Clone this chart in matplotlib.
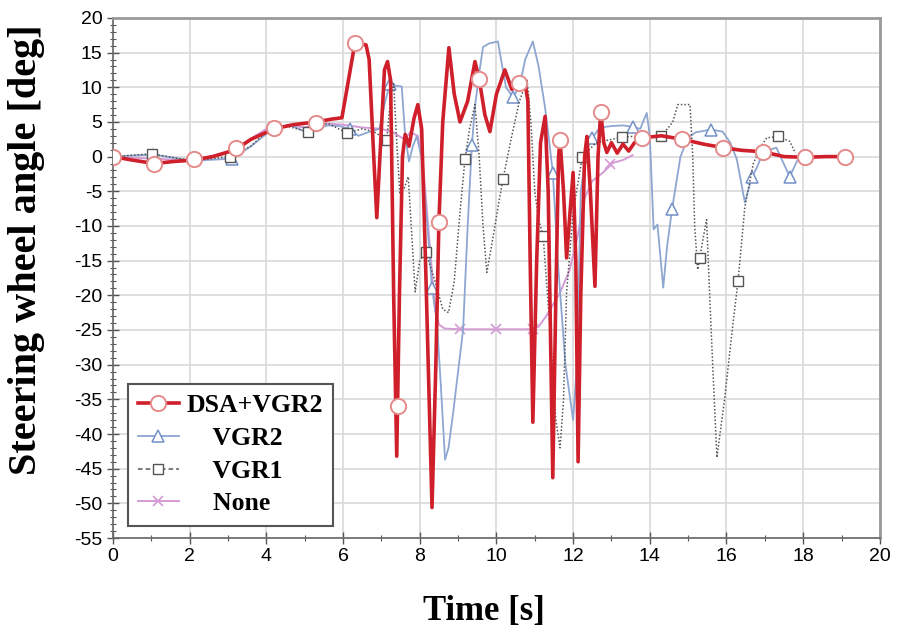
import matplotlib.pyplot as plt
from matplotlib.lines import Line2D
from matplotlib.ticker import MultipleLocator

plt.rcParams['axes.unicode_minus'] = False

# DSA+VGR2 trace (time [s], angle [deg])
dsa_t = [0.0, 0.5, 1.07, 1.6, 2.1, 2.6, 3.2, 3.6, 4.2, 4.7, 5.3, 5.7, 5.97,
         6.31, 6.6, 6.68, 6.8, 6.88, 6.98, 7.08, 7.16, 7.24, 7.32, 7.4, 7.47,
         7.55, 7.62, 7.72, 7.85, 7.95, 8.05, 8.15, 8.32, 8.42, 8.5, 8.6, 8.76,
         8.9, 9.05, 9.25, 9.44, 9.55, 9.7, 9.83, 10.0, 10.22, 10.4, 10.6, 10.75,
         10.82, 10.88, 10.95, 11.05, 11.15, 11.27, 11.35, 11.47, 11.55, 11.62,
         11.66, 11.75, 11.83, 11.92, 12.0, 12.07, 12.13, 12.2, 12.3, 12.36,
         12.45, 12.57, 12.65, 12.72, 12.8, 12.88, 13.0, 13.15, 13.3, 13.45,
         13.6, 13.8, 14.3, 14.85, 15.4, 15.9, 16.4, 16.95, 17.5, 18.05, 18.6, 19.1]
dsa_y = [0.0, -0.5, -1.0, -0.7, -0.5, 0.0, 1.0, 2.5, 4.0, 4.6, 5.0, 5.4, 5.6,
         16.4, 16.1, 14.0, 0.0, -8.8, 2.0, 12.5, 13.7, 11.0, -20.0, -43.2, -20.0,
         0.0, 3.2, 1.5, 5.5, 7.5, 4.0, -15.0, -50.6, -30.0, -9.4, 5.0, 15.7,
         9.0, 5.0, 8.0, 13.7, 11.2, 6.0, 3.6, 9.0, 12.5, 9.7, 10.6, 10.5,
         8.0, -15.0, -38.3, -15.0, 2.0, 5.8, -5.0, -46.3, -20.0, 0.0,
         2.4, -5.0, -14.6, -8.0, -2.3, -15.0, -44.0, -20.0, 0.0, 2.9,
         -5.0, -18.7, 0.0, 6.5, 2.0, 0.6, 2.0, 0.5, 1.8, 0.8,
         2.0, 2.7, 3.0, 2.5, 1.8, 1.3, 0.9, 0.7, 0.0, -0.1, 0.0, 0.0]
dsa_mk_t = [0.0, 1.07, 2.1, 3.2, 4.2, 5.3, 6.31, 7.43, 8.5, 9.55, 10.6, 11.66,
            12.72, 13.8, 14.85, 15.9, 16.95, 18.05, 19.1]
dsa_mk_y = [0.0, -1.1, -0.4, 1.2, 4.1, 4.9, 16.4, -35.9, -9.4, 11.2, 10.6, 2.4,
            6.5, 2.7, 2.5, 1.3, 0.7, -0.1, 0.0]

# VGR2 trace
vgr2_t = [0.0, 1.04, 2.08, 3.1, 3.6, 4.16, 4.6, 5.0, 5.2, 5.6, 5.9, 6.18, 6.4,
          6.7, 6.95, 7.1, 7.22, 7.4, 7.53, 7.62, 7.72, 7.82, 7.92, 8.05, 8.2,
          8.32, 8.45, 8.55, 8.66, 8.75, 8.87, 9.0, 9.13, 9.25, 9.36, 9.44, 9.55,
          9.65, 9.8, 10.04, 10.12, 10.25, 10.43, 10.6, 10.75, 10.95, 11.1, 11.27,
          11.38, 11.47, 11.6, 11.8, 12.0, 12.1, 12.2, 12.35, 12.5, 12.7, 13.0,
          13.3, 13.55, 13.75, 13.92, 14.0, 14.1, 14.2, 14.35, 14.45, 14.58, 14.8,
          15.0, 15.2, 15.6, 15.9, 16.1, 16.27, 16.48, 16.66, 16.8, 16.95, 17.3,
          17.65, 17.86]
vgr2_y = [0.0, 0.3, -0.6, -0.3, 1.5, 4.0, 4.6, 3.6, 3.8, 4.5, 4.4, 4.0, 3.0,
          3.6, 4.0, 8.0, 10.4, 10.2, 10.1, 3.0, -0.7, 1.5, 2.9, 0.0, -10.0,
          -18.9, -24.0, -33.0, -43.7, -42.0, -37.0, -31.0, -25.0, -10.0, 1.7, 7.2, 12.0,
          15.8, 16.3, 16.6, 14.0, 10.0, 8.6, 10.0, 14.0, 16.6, 13.0, 7.0,
          2.0, -2.3, -15.0, -30.0, -38.0, -30.0, -5.0, 1.0, 2.7, 4.2, 4.4,
          4.5, 4.3, 4.0, 6.3, 3.0, -10.5, -9.8, -18.9, -13.0, -7.6, 0.0,
          2.8, 3.5, 3.9, 3.6, 2.0, -0.4, -6.6, -3.0, -1.5, 0.6, 1.3,
          -2.9, -0.4]
vgr2_mk_t = [1.04, 3.1, 6.18, 7.22, 8.32, 9.36, 10.43, 11.47, 12.5, 13.55,
             14.58, 15.6, 16.66, 17.65]
vgr2_mk_y = [0.3, -0.3, 4.0, 10.4, -18.9, 1.7, 8.6, -2.3, 2.7, 4.3,
             -7.6, 3.9, -3.0, -2.9]

# VGR1 trace
vgr1_t = [0.0, 1.02, 2.05, 3.05, 3.6, 4.07, 4.6, 5.08, 5.6, 6.1, 6.5, 6.8,
          7.14, 7.25, 7.32, 7.4, 7.48, 7.6, 7.7, 7.8, 7.88, 8.0, 8.16, 8.4,
          8.6, 8.75, 8.9, 9.05, 9.18, 9.3, 9.44, 9.55, 9.65, 9.75, 9.9, 10.05,
          10.17, 10.4, 10.6, 10.8, 10.9, 11.0, 11.1, 11.22, 11.4, 11.55, 11.66,
          11.75, 11.83, 12.0, 12.24, 12.6, 13.27, 13.8, 14.3, 14.6, 14.73,
          15.05, 15.12, 15.17, 15.25, 15.3, 15.48, 15.6, 15.75, 15.95, 16.15,
          16.3, 16.48, 16.7, 16.9, 17.05, 17.35, 17.65, 17.8]
vgr1_y = [0.0, 0.4, -0.6, 0.0, 1.5, 4.0, 4.3, 3.6, 4.8, 3.4, 4.0, 3.6,
          2.4, 9.0, 10.5, 2.0, -5.2, -4.5, -2.9, -12.0, -19.5, -15.0, -13.7, -18.0,
          -22.0, -22.5, -18.0, -8.0, -0.4, 4.0, 7.5, 0.0, -10.0, -16.7, -12.0, -7.0,
          -3.3, 3.0, 8.0, 11.0, 5.0, -5.0, -9.0, -11.5, -25.0, -38.0, -42.0,
          -35.0, -19.6, -8.0, 0.0, 2.0, 2.8, 3.0, 2.9, 5.0, 7.5,
          7.5, 0.0, -10.0, -16.3, -14.6, -9.1, -25.0, -43.4, -35.0, -25.0,
          -18.0, -7.2, -1.0, 1.5, 2.7, 2.9, 2.2, 0.5]
vgr1_mk_t = [1.02, 3.05, 5.08, 6.1, 7.14, 8.16, 9.18, 10.17, 11.22, 12.24,
             13.27, 14.3, 15.3, 16.3, 17.35]
vgr1_mk_y = [0.4, 0.0, 3.6, 3.4, 2.4, -13.7, -0.4, -3.3, -11.5, 0.0,
             2.8, 2.9, -14.6, -18.0, 2.9]

# None trace
none_t = [0.0, 1.0, 2.0, 3.0, 4.0, 4.6, 5.0, 5.5, 6.0, 6.5, 7.0, 7.3, 7.6,
          7.75, 7.95, 8.1, 8.25, 8.4, 8.5, 8.65, 9.05, 10.0, 10.96, 11.1, 11.3,
          11.66, 11.9, 12.1, 12.3, 12.5, 12.78, 13.04, 13.3, 13.55]
none_y = [0.0, -0.3, -0.5, 0.5, 4.0, 4.5, 4.2, 4.8, 4.6, 4.2, 4.0, 3.5, 2.5,
          3.5, 3.0, -2.0, -12.0, -22.0, -24.2, -24.8, -24.9, -24.9, -24.9, -24.5, -23.0,
          -19.6, -16.5, -12.0, -6.0, -3.5, -2.3, -0.9, -0.5, 0.2]
none_mk_t = [9.05, 10.0, 10.96, 12.95]
none_mk_y = [-24.9, -24.9, -24.9, -1.1]

red = '#cf1f2a'
blue = '#8ea6d2'
gray = '#555555'
pink = '#d59bd5'

fig = plt.figure(figsize=(8.99, 6.39), dpi=100)
ax = fig.add_axes([0.1257, 0.158, 0.853, 0.814])

ax.plot(none_t, none_y, color=pink, lw=1.4, zorder=2)
ax.plot(none_mk_t, none_mk_y, ls='none', marker='x', ms=7, mec=pink, mew=1.2, zorder=2)
ax.plot(vgr2_t, vgr2_y, color=blue, lw=1.3, zorder=3)
ax.plot(vgr2_mk_t, vgr2_mk_y, ls='none', marker='^', ms=8, mfc='white', mec='#7390c8',
        mew=1.1, zorder=3)
ax.plot(vgr1_t, vgr1_y, color=gray, lw=1.1, ls=(0, (1, 1.3)), zorder=4)
ax.plot(vgr1_mk_t, vgr1_mk_y, ls='none', marker='s', ms=6.5, mfc='white', mec=gray,
        mew=1.0, zorder=4)
ax.plot(dsa_t, dsa_y, color=red, lw=2.6, zorder=5)
ax.plot(dsa_mk_t, dsa_mk_y, ls='none', marker='o', ms=11, mfc='white', mec='#e58a8a',
        mew=1.4, zorder=6)

ax.set_xlim(0, 20)
ax.set_ylim(-55, 20)
ax.xaxis.set_major_locator(MultipleLocator(2))
ax.xaxis.set_minor_locator(MultipleLocator(1))
ax.yaxis.set_major_locator(MultipleLocator(5))
ax.yaxis.set_minor_locator(MultipleLocator(1))
ax.grid(True, which='major', color='#d9d9d9', lw=1.2, zorder=0)
ax.set_axisbelow(True)

ax.tick_params(which='major', direction='inout', length=9, width=1, color='#555555',
               labelsize=14, pad=3)
ax.tick_params(which='minor', direction='inout', length=5, width=0.8, color='#555555')
for lab in ax.get_xticklabels() + ax.get_yticklabels():
    lab.set_fontfamily('Liberation Sans')

for side in ['top', 'right']:
    ax.spines[side].set_color('#9a9a9a')
    ax.spines[side].set_linewidth(2)
for side in ['left', 'bottom']:
    ax.spines[side].set_color('#666666')
    ax.spines[side].set_linewidth(1.2)

ax.set_xlabel('Time [s]', fontfamily='Liberation Serif', fontweight='bold', fontsize=25)
ax.set_ylabel('Steering wheel angle [deg]', fontfamily='Liberation Serif',
              fontweight='bold', fontsize=29)
ax.xaxis.set_label_coords(0.484, -0.11)
ax.yaxis.set_label_coords(-0.089, 0.554)

handles = [
    Line2D([], [], color=red, lw=2.6, marker='o', ms=11, mfc='white', mec='#e58a8a', mew=1.4),
    Line2D([], [], color=blue, lw=1.3, marker='^', ms=8, mfc='white', mec='#7390c8', mew=1.1),
    Line2D([], [], color=gray, lw=1.1, ls=(0, (3, 2)), marker='s', ms=6.5, mfc='white',
           mec=gray, mew=1.0),
    Line2D([], [], color=pink, lw=1.4, marker='x', ms=7, mec=pink, mew=1.2),
]
labels = ['DSA+VGR2', '    VGR2', '    VGR1', '    None']
leg = ax.legend(handles, labels, loc='lower left', bbox_to_anchor=(0.019, 0.024),
                borderaxespad=0, fancybox=False, framealpha=1, edgecolor='#555555',
                handlelength=1.6, handletextpad=0.3, labelspacing=0.38,
                borderpad=0.4, prop={'family': 'Liberation Serif', 'weight': 'bold',
                                     'size': 18.5})
leg.get_frame().set_linewidth(1.5)

fig.savefig('out.png', dpi=100)
